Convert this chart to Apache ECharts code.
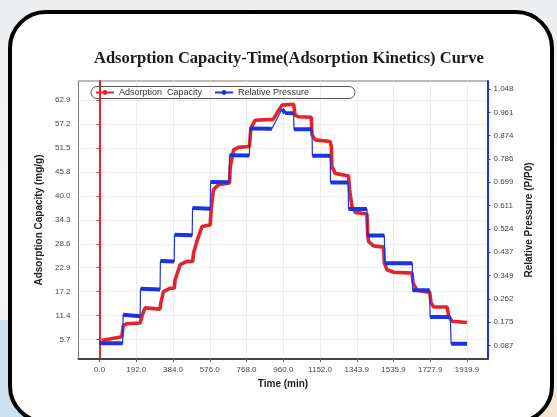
<!DOCTYPE html>
<html><head><meta charset="utf-8">
<script src="https://cdn.jsdelivr.net/npm/echarts@6/dist/echarts.min.js"></script>
<style>
html,body{margin:0;padding:0;width:557px;height:417px;overflow:hidden;}
body{background:linear-gradient(180deg,#eceef0 0%,#f3f4f5 55%,#eef0f2 100%);position:relative;}
#blob{position:absolute;left:-120px;top:320px;width:260px;height:240px;border-radius:50%;background:#cfe0ee;}
#blob2{position:absolute;right:-50px;top:385px;width:150px;height:90px;border-radius:50%;background:#f5e6d5;}
#frame{position:absolute;left:8px;top:10px;width:538px;height:406px;border:4px solid #000;border-radius:38px;background:#fff;}
#chart{position:absolute;left:0;top:0;width:557px;height:417px;}
</style></head>
<body>
<div id="blob"></div><div id="blob2"></div><div id="frame"></div>
<div id="chart"></div>
<script>
// ---- data ----
const xTickValues = [0.0, 192.0, 384.0, 576.0, 768.0, 960.0, 1152.0, 1343.9, 1535.9, 1727.9, 1919.9];
const xTickLabels = ['0.0','192.0','384.0','576.0','768.0','960.0','1152.0','1343.9','1535.9','1727.9','1919.9'];
const capTickValues = [5.72, 11.44, 17.16, 22.88, 28.6, 34.32, 40.04, 45.76, 51.48, 57.2, 62.92];
const capTickLabels = ['5.7','11.4','17.2','22.9','28.6','34.3','40.0','45.8','51.5','57.2','62.9'];
const prTickValues = [0.0873, 0.1747, 0.262, 0.3493, 0.4367, 0.524, 0.6113, 0.6987, 0.786, 0.8733, 0.9607, 1.048];
const prTickLabels = ['0.087','0.175','0.262','0.349','0.437','0.524','0.611','0.699','0.786','0.874','0.961','1.048'];

// Adsorption capacity (mg/g) vs time (min)
const capTime  = [11,116,124,142,212,221,238,316,320,334,369,390,395,421,456,487,491,508,535,578,583,595,621,679,683,700,726,783,791,813,907,953,1014,1022,1040,1106,1110,1127,1205,1211,1214,1232,1301,1306,1319,1336,1397,1401,1406,1432,1484,1488,1502,1537,1633,1638,1659,1725,1732,1746,1816,1824,1842,1920];
const capValue = [5.5,6.4,9.1,9.5,9.7,11.3,13.3,13.0,14.5,17.2,18.0,18.0,20.0,23.6,24.4,24.4,26.4,29.1,32.7,33.1,36.7,41.5,42.7,43.1,47.0,51.0,51.6,51.8,56.2,58.1,58.3,61.7,61.9,59.3,58.9,58.8,54.6,53.4,53.0,51.8,47.0,45.4,44.8,41.5,37.5,36.1,35.7,30.7,29.1,28.1,27.8,24.0,22.4,21.8,21.6,19.2,17.5,17.0,14.5,13.5,13.5,11.3,10.1,9.8];

// Relative pressure plateaus: start/end time and start/end value
const prStart = [0,123,214,318,392,486,580,679,785,953,970,1016,1112,1207,1301,1399,1490,1636,1727,1837];
const prEnd   = [121,212,316,390,484,578,677,783,900,970,1014,1110,1205,1299,1397,1488,1634,1725,1833,1920];
const prFrom  = [0.096,0.203,0.300,0.404,0.502,0.602,0.700,0.800,0.900,0.972,0.958,0.897,0.798,0.698,0.599,0.499,0.396,0.294,0.194,0.094];
const prTo    = [0.096,0.197,0.297,0.402,0.500,0.600,0.699,0.799,0.899,0.958,0.957,0.897,0.798,0.698,0.599,0.499,0.396,0.294,0.194,0.094];

const RED = '#e6232b', BLUE = '#1d33dc';
const capData = capTime.map((t, i) => [t, capValue[i]]);
const prAll = [], prThick = [];
prStart.forEach((s, i) => {
  prAll.push([s, prFrom[i]], [prEnd[i], prTo[i]]);
  prThick.push([s, prFrom[i]], [prEnd[i], prTo[i]], null);
});

function labelFor(vals, labels) {
  return function (v) {
    let best = 0;
    vals.forEach((x, i) => { if (Math.abs(x - v) < Math.abs(vals[best] - v)) best = i; });
    return labels[best];
  };
}
const tickFont = {fontFamily: 'Liberation Sans', fontSize: 8, color: '#444'};
const nameFont = {fontFamily: 'Liberation Sans', fontSize: 10, fontWeight: 'bold', color: '#222'};

const chart = echarts.init(document.getElementById('chart'), null, {renderer: 'canvas'});
chart.setOption({
  animation: false,
  title: {
    text: 'Adsorption Capacity-Time(Adsorption Kinetics) Curve',
    left: 89, top: 45,
    textStyle: {fontFamily: 'Liberation Serif', fontWeight: 'bold', fontSize: 16.5, color: '#1a1a1a'}
  },
  legend: {
    left: 95, top: 88, padding: 0, itemGap: 12, itemWidth: 18, itemHeight: 6,
    textStyle: {fontFamily: 'Liberation Sans', fontSize: 9, color: '#333'},
    data: ['Adsorption  Capacity', 'Relative Pressure']
  },
  graphic: [{
    type: 'rect', z: 100,
    shape: {x: 91, y: 86.5, width: 264, height: 12, r: 6},
    style: {fill: 'none', stroke: '#555', lineWidth: 1}
  }],
  grid: {left: 78.5, right: 69.5, top: 81, bottom: 58, show: true, borderColor: '#777', borderWidth: 1},
  xAxis: {
    type: 'value', min: -110, max: 2027,
    name: 'Time (min)', nameLocation: 'middle', nameGap: 18, nameTextStyle: nameFont,
    axisLine: {lineStyle: {color: '#444', width: 2}},
    axisTick: {show: true, length: 3, customValues: xTickValues, lineStyle: {color: '#666'}},
    axisLabel: Object.assign({margin: 7, customValues: xTickValues, formatter: labelFor(xTickValues, xTickLabels)}, tickFont),
    splitLine: {show: true, lineStyle: {color: '#ececec', width: 1}}
  },
  yAxis: [{
    type: 'value', min: 1.1, max: 67.45, position: 'left',
    name: 'Adsorption Capacity (mg/g)', nameLocation: 'middle', nameGap: 26, nameTextStyle: nameFont,
    axisLine: {show: true, lineStyle: {color: RED, width: 2}},
    axisTick: {show: true, length: 3, customValues: capTickValues, lineStyle: {color: RED}},
    axisLabel: Object.assign({margin: 8, customValues: capTickValues, formatter: labelFor(capTickValues, capTickLabels)}, tickFont),
    splitLine: {show: true, lineStyle: {color: '#ececec', width: 1}}
  }, {
    type: 'value', min: 0.037, max: 1.078, position: 'right',
    name: 'Relative Pressure (P/P0)', nameLocation: 'middle', nameGap: 33, nameTextStyle: nameFont,
    axisLine: {show: true, lineStyle: {color: BLUE, width: 2}},
    axisTick: {show: true, length: 3, customValues: prTickValues, lineStyle: {color: BLUE}},
    axisLabel: Object.assign({margin: 6, customValues: prTickValues, formatter: labelFor(prTickValues, prTickLabels)}, tickFont),
    splitLine: {show: false}
  }],
  series: [{
    name: 'Adsorption  Capacity', type: 'line', yAxisIndex: 0, data: capData,
    symbol: 'circle', symbolSize: 4, showSymbol: false,
    lineStyle: {color: RED, width: 3.6}, itemStyle: {color: RED}, z: 3
  }, {
    name: 'Relative Pressure', type: 'line', yAxisIndex: 1, data: prAll,
    symbol: 'circle', symbolSize: 4, showSymbol: false,
    lineStyle: {color: BLUE, width: 1.2}, itemStyle: {color: BLUE}, z: 4
  }, {
    name: 'Relative Pressure', type: 'line', yAxisIndex: 1, data: prThick,
    symbol: 'none', showSymbol: false, connectNulls: false,
    lineStyle: {color: BLUE, width: 4}, itemStyle: {color: BLUE}, z: 4
  }]
});
</script>
</body></html>
